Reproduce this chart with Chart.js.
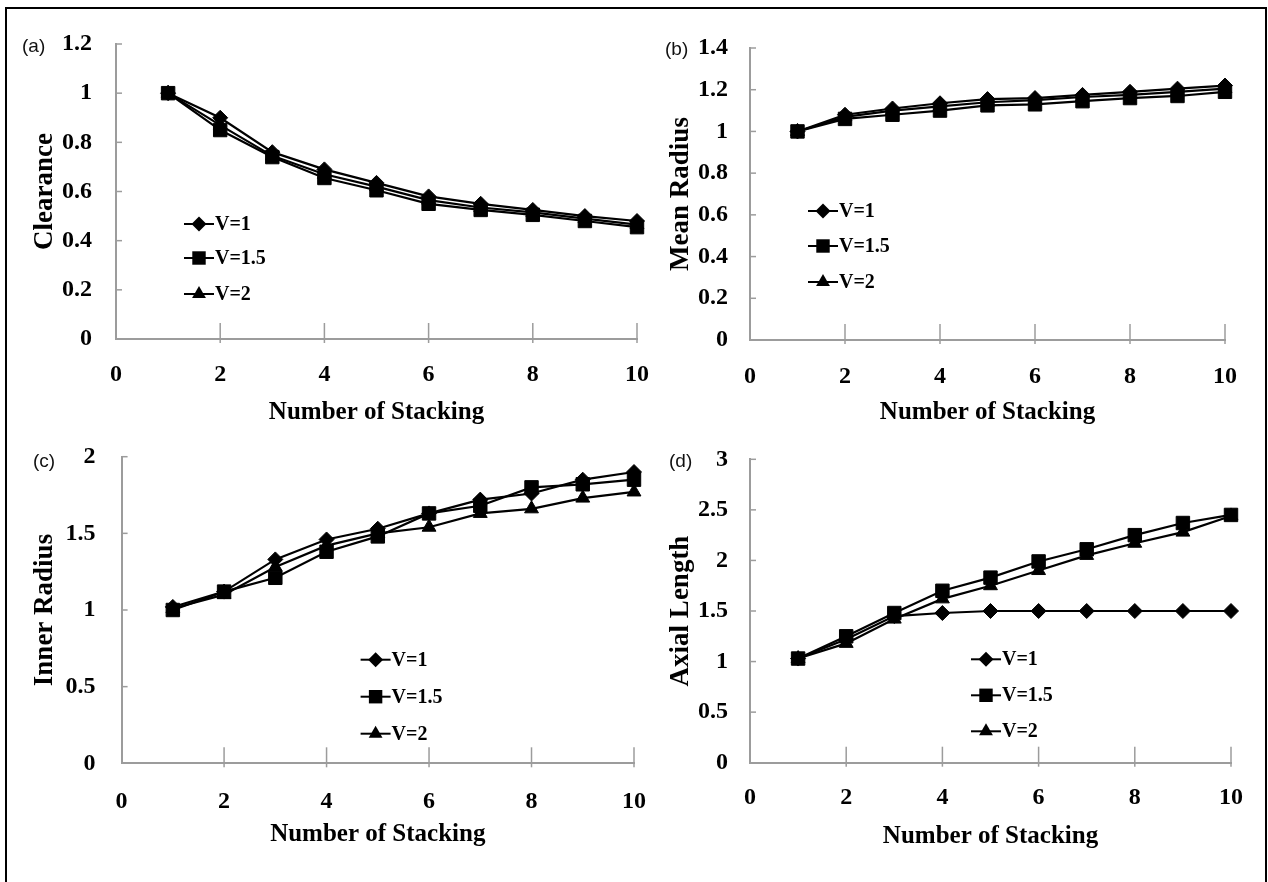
<!DOCTYPE html>
<html>
<head>
<meta charset="utf-8">
<script src="https://cdn.jsdelivr.net/npm/chart.js@4.4.0/dist/chart.umd.min.js"></script>
<style>
  body { margin: 0; background: #fff; width: 1268px; height: 882px; overflow: hidden; position: relative; }
  #frame { position: absolute; left: 5px; top: 7px; width: 1262px; height: 900px; border: 2px solid #000; box-sizing: border-box; }
  canvas { position: absolute; }
  .tag { position: absolute; font-family: "Liberation Sans", Arial, sans-serif; font-size: 19px; color: #111; line-height: 1; }
</style>
</head>
<body>
<div id="frame"></div>
<canvas id="chartA" width="644" height="418" style="left:8px;top:10px"></canvas>
<canvas id="chartB" width="620" height="418" style="left:640px;top:10px"></canvas>
<canvas id="chartC" width="640" height="410" style="left:8px;top:440px"></canvas>
<canvas id="chartD" width="620" height="412" style="left:640px;top:440px"></canvas>
<div class="tag" style="left:22px;top:36px">(a)</div>
<div class="tag" style="left:665px;top:39px">(b)</div>
<div class="tag" style="left:33px;top:451px">(c)</div>
<div class="tag" style="left:669px;top:451px">(d)</div>
<script>
// data
const stacking = [1, 2, 3, 4, 5, 6, 7, 8, 9, 10];
const seriesNames = ["V=1", "V=1.5", "V=2"];

const clearanceV1 = [1.00, 0.90, 0.76, 0.69, 0.635, 0.58, 0.55, 0.525, 0.50, 0.48];
const clearanceV15 = [1.00, 0.85, 0.74, 0.655, 0.605, 0.55, 0.525, 0.505, 0.48, 0.455];
const clearanceV2 = [1.00, 0.87, 0.745, 0.67, 0.62, 0.565, 0.535, 0.515, 0.49, 0.465];

const meanRadiusV1 = [1.00, 1.08, 1.11, 1.135, 1.155, 1.16, 1.175, 1.19, 1.205, 1.22];
const meanRadiusV15 = [1.00, 1.06, 1.08, 1.10, 1.125, 1.13, 1.145, 1.16, 1.17, 1.19];
const meanRadiusV2 = [1.00, 1.07, 1.10, 1.12, 1.14, 1.15, 1.165, 1.175, 1.19, 1.205];

const innerRadiusV1 = [1.02, 1.12, 1.33, 1.46, 1.53, 1.63, 1.72, 1.76, 1.85, 1.90];
const innerRadiusV15 = [1.00, 1.12, 1.21, 1.38, 1.48, 1.63, 1.68, 1.80, 1.82, 1.85];
const innerRadiusV2 = [1.01, 1.10, 1.28, 1.42, 1.50, 1.54, 1.63, 1.66, 1.73, 1.77];

const axialLengthV1 = [1.03, 1.22, 1.45, 1.48, 1.50, 1.50, 1.50, 1.50, 1.50, 1.50];
const axialLengthV15 = [1.03, 1.25, 1.48, 1.70, 1.83, 1.99, 2.11, 2.25, 2.37, 2.45];
const axialLengthV2 = [1.03, 1.18, 1.42, 1.62, 1.75, 1.90, 2.05, 2.17, 2.28, 2.44];

const serif = "'Liberation Serif', 'Times New Roman', serif";
const axisGray = "#9c9c9c";
const markerStyles = ["rectRot", "rect", "triangle"];
const markerSizes = [7.5, 9.5, 8];

function drawMarker(ctx, style, x, y, r) {
  ctx.beginPath();
  if (style == "rectRot") {
    ctx.moveTo(x, y - r);
    ctx.lineTo(x + r, y);
    ctx.lineTo(x, y + r);
    ctx.lineTo(x - r, y);
  } else if (style == "rect") {
    let s = r * Math.SQRT1_2;
    ctx.rect(x - s, y - s, 2 * s, 2 * s);
  } else {
    ctx.moveTo(x, y - r);
    ctx.lineTo(x + r * 0.866, y + r * 0.5);
    ctx.lineTo(x - r * 0.866, y + r * 0.5);
  }
  ctx.closePath();
  ctx.fill();
}

// tick marks inside the axes + legend inside the plot
const panelDecor = {
  id: "panelDecor",
  beforeDatasetsDraw(chart) {
    const { ctx, chartArea } = chart;
    const xs = chart.scales.x;
    const ys = chart.scales.y;
    ctx.save();
    ctx.strokeStyle = axisGray;
    ctx.lineWidth = 1.5;
    xs.ticks.forEach((t) => {
      if (t.value === 0) return;
      let px = xs.getPixelForValue(t.value);
      ctx.beginPath();
      ctx.moveTo(px, chartArea.bottom - 16);
      ctx.lineTo(px, chartArea.bottom + 4);
      ctx.stroke();
    });
    ys.ticks.forEach((t) => {
      if (t.value === 0) return;
      let py = ys.getPixelForValue(t.value);
      ctx.beginPath();
      ctx.moveTo(chartArea.left, py);
      ctx.lineTo(chartArea.left + 6, py);
      ctx.stroke();
    });
    ctx.restore();
  },
  afterDraw(chart, args, opts) {
    const { ctx, chartArea } = chart;
    ctx.save();
    chart.data.datasets.forEach((ds, i) => {
      let x = chartArea.left + opts.x;
      let y = chartArea.top + opts.y[i];
      ctx.strokeStyle = "#000";
      ctx.fillStyle = "#000";
      ctx.lineWidth = 2;
      ctx.beginPath();
      ctx.moveTo(x, y);
      ctx.lineTo(x + 30, y);
      ctx.stroke();
      drawMarker(ctx, markerStyles[i], x + 15, y, markerSizes[i]);
      ctx.font = "bold 20px " + serif;
      ctx.textBaseline = "middle";
      ctx.fillText(ds.label, x + 31, y + 1);
    });
    ctx.restore();
  },
};

function makePanel(id, p) {
  let datasets = p.series.map((vals, i) => ({
    label: seriesNames[i],
    data: stacking.map((s, j) => ({ x: s, y: vals[j] })),
    borderColor: "#000",
    borderWidth: 2.2,
    backgroundColor: "#000",
    pointStyle: markerStyles[i],
    pointRadius: markerSizes[i],
    pointBackgroundColor: "#000",
    pointBorderColor: "#000",
    pointBorderWidth: 1,
    tension: 0,
    clip: false,
  }));

  // invisible tick marks give the label gap (ticks.padding would also pad the chart area)
  return new Chart(document.getElementById(id), {
    type: "line",
    data: { datasets: datasets },
    plugins: [panelDecor],
    options: {
      responsive: false,
      animation: false,
      devicePixelRatio: 1,
      layout: { padding: p.pad },
      plugins: {
        legend: { display: false },
        tooltip: { enabled: false },
        panelDecor: { x: p.legendX, y: p.legendY },
      },
      scales: {
        x: {
          type: "linear",
          min: 0,
          max: 10,
          grid: { display: true, drawOnChartArea: false, drawTicks: true, tickLength: p.xTickPad, color: "rgba(0,0,0,0)" },
          border: { display: true, color: axisGray, width: 2 },
          ticks: { stepSize: 2, padding: 0, color: "#000", font: { family: serif, size: 24, weight: "bold" }, maxRotation: 0 },
          title: { display: true, text: "Number of Stacking", color: "#000", padding: 0, font: { family: serif, size: 25, weight: "bold" } },
          afterFit: (scale) => { scale.height = p.xHeight; },
        },
        y: {
          min: 0,
          max: p.yMax,
          grid: { display: true, drawOnChartArea: false, drawTicks: true, tickLength: p.yTickPad, color: "rgba(0,0,0,0)" },
          border: { display: true, color: axisGray, width: 2 },
          ticks: {
            stepSize: p.yStep,
            padding: 0,
            color: "#000",
            font: { family: serif, size: 24, weight: "bold" },
            callback: (v) => String(Math.round(v * 100) / 100),
          },
          title: { display: true, text: p.yTitle, color: "#000", padding: { top: p.yTitlePad, bottom: 0 }, font: { family: serif, size: 27, weight: "bold" } },
          afterFit: (scale) => { scale.width = 100; },
        },
      },
    },
  });
}

makePanel("chartA", {
  yTitle: "Clearance", yMax: 1.2, yStep: 0.2,
  series: [clearanceV1, clearanceV15, clearanceV2],
  pad: { left: 8, top: 34, right: 15, bottom: 0 },
  xHeight: 89, xTickPad: 21.6, yTickPad: 24, yTitlePad: 12.8,
  legendX: 68, legendY: [180, 214, 250],
});

makePanel("chartB", {
  yTitle: "Mean Radius", yMax: 1.4, yStep: 0.2,
  series: [meanRadiusV1, meanRadiusV15, meanRadiusV2],
  pad: { left: 10, top: 38, right: 35, bottom: 0 },
  xHeight: 88, xTickPad: 22.3, yTickPad: 22, yTitlePad: 14.8,
  legendX: 58, legendY: [163, 198, 234],
});

makePanel("chartC", {
  yTitle: "Inner Radius", yMax: 2, yStep: 0.5,
  series: [innerRadiusV1, innerRadiusV15, innerRadiusV2],
  pad: { left: 13.6, top: 16.7, right: 14, bottom: 0 },
  xHeight: 86.7, xTickPad: 24, yTickPad: 26, yTitlePad: 7.2,
  legendX: 239, legendY: [203, 240, 277],
});

makePanel("chartD", {
  yTitle: "Axial Length", yMax: 3, yStep: 0.5,
  series: [axialLengthV1, axialLengthV15, axialLengthV2],
  pad: { left: 10, top: 19.3, right: 29, bottom: 0 },
  xHeight: 89.3, xTickPad: 20.9, yTickPad: 22, yTitlePad: 14.8,
  legendX: 221, legendY: [200, 236, 272],
});
</script>
</body>
</html>
